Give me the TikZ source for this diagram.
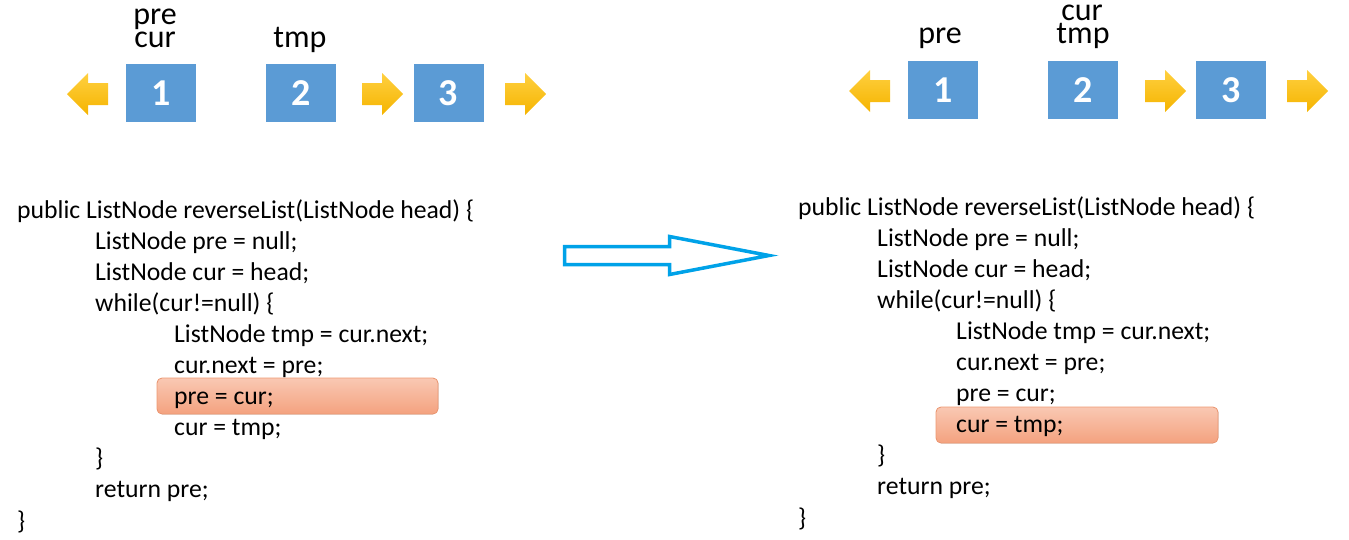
\documentclass[tikz,border=0pt]{standalone}
\usepackage{fontspec}
\setmainfont{Carlito}
\definecolor{boxblue}{HTML}{5B9BD5}
\definecolor{goldtop}{HTML}{FFD040}
\definecolor{goldbot}{HTML}{F5B400}
\definecolor{hltop}{HTML}{F9C8B3}
\definecolor{hlbot}{HTML}{F4A27F}
\definecolor{hledge}{HTML}{EE9872}
\definecolor{bigarrow}{HTML}{00A2E8}
\tikzset{
  listbox/.style={fill=boxblue, minimum width=70pt, minimum height=58pt, inner sep=0pt,
    text=white, font=\fontsize{38}{38}\selectfont\bfseries},
  varlabel/.style={anchor=base, inner sep=0pt, font=\fontsize{32}{32}\selectfont},
  codeline/.style={anchor=base west, inner sep=0pt, font=\fontsize{25.7}{31}\selectfont},
  highlight/.style={top color=hltop, bottom color=hlbot, draw=hledge, line width=0.8pt, rounded corners=5pt},
  blockarrow/.pic={
    \shade[top color=goldtop, bottom color=goldbot]
      (0,-11)--(20,-11)--(20,-21)--(41,0)--(20,21)--(20,11)--(0,11)--cycle;
  }
}
\begin{document}
\begin{tikzpicture}[x=1pt,y=-1pt]
\useasboundingbox (0,0) rectangle (1349,539);

% left: before the step
\node[listbox] (a1) at (161,93) {1};
\node[listbox] (a2) at (301,93) {2};
\node[listbox] (a3) at (448.5,93) {3};
\pic[xscale=-1] at (108,94) {blockarrow};
\pic at (362,94) {blockarrow};
\pic at (505,94) {blockarrow};
\node[varlabel] (apre) at (155,24) {pre};
\node[varlabel] (acur) at (155,47) {cur};
\node[varlabel] (atmp) at (300,47) {tmp};

\filldraw[highlight] (157,378) rectangle (438,414);
\node[codeline] (l1) at (17,218) {public ListNode reverseList(ListNode head) \{};
\node[codeline] (l2) at (95,249.1) {ListNode pre = null;};
\node[codeline] (l3) at (95,280.2) {ListNode cur = head;};
\node[codeline] (l4) at (95,311.3) {while(cur!=null) \{};
\node[codeline] (l5) at (174,342.4) {ListNode tmp = cur.next;};
\node[codeline] (l6) at (174,373.5) {cur.next = pre;};
\node[codeline] (l7) at (174,404.6) {pre = cur;};
\node[codeline] (l8) at (174,435.7) {cur = tmp;};
\node[codeline] (l9) at (95,466.8) {\}};
\node[codeline] (l10) at (95,497.9) {return pre;};
\node[codeline] (l11) at (17,529) {\}};

% the step
\draw[bigarrow, line width=3.5pt, line join=miter]
  (564.5,246.5) -- (669.5,246.5) -- (669.5,236.5) -- (769,255.5)
  -- (669.5,274.5) -- (669.5,264.5) -- (564.5,264.5) -- cycle;

% right: after the step
\node[listbox] (b1) at (943,90) {1};
\node[listbox] (b2) at (1083,90) {2};
\node[listbox] (b3) at (1231,90) {3};
\pic[xscale=-1] at (890,91) {blockarrow};
\pic at (1145,91) {blockarrow};
\pic at (1287,91) {blockarrow};
\node[varlabel] (bpre) at (940,43) {pre};
\node[varlabel] (bcur) at (1082,20) {cur};
\node[varlabel] (btmp) at (1083,43) {tmp};

\filldraw[highlight] (936,407) rectangle (1218,443);
\node[codeline] (r1) at (798,215) {public ListNode reverseList(ListNode head) \{};
\node[codeline] (r2) at (877,246.1) {ListNode pre = null;};
\node[codeline] (r3) at (877,277.2) {ListNode cur = head;};
\node[codeline] (r4) at (877,308.3) {while(cur!=null) \{};
\node[codeline] (r5) at (956,339.4) {ListNode tmp = cur.next;};
\node[codeline] (r6) at (956,370.5) {cur.next = pre;};
\node[codeline] (r7) at (956,401.6) {pre = cur;};
\node[codeline] (r8) at (956,432.7) {cur = tmp;};
\node[codeline] (r9) at (877,463.8) {\}};
\node[codeline] (r10) at (877,494.9) {return pre;};
\node[codeline] (r11) at (798,526) {\}};
\end{tikzpicture}
\end{document}
